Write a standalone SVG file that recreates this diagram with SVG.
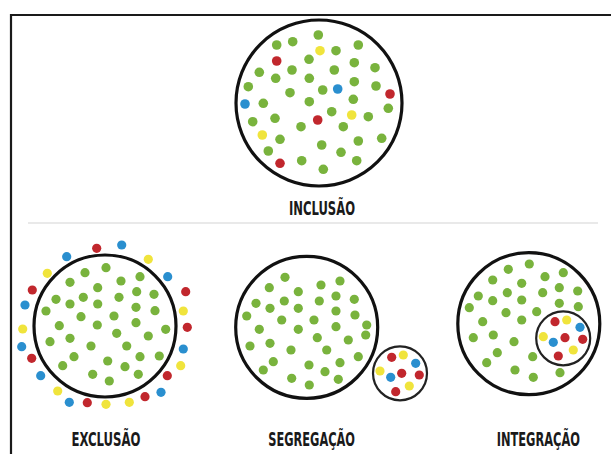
<svg xmlns="http://www.w3.org/2000/svg" width="611" height="454" viewBox="0 0 611 454">
<style>
.ring{fill:none;stroke:#111;stroke-width:3.2}
.ring2{fill:none;stroke:#222;stroke-width:2.2}
.g{fill:#79b33d}
.r{fill:#c1272d}
.b{fill:#2a8fcf}
.y{fill:#f0e43c}
.lbl{font-family:"Liberation Sans Narrow","DejaVu Sans Condensed","Liberation Sans",sans-serif;font-stretch:condensed;font-weight:bold;font-size:20px;fill:#1a1a1a}
</style>
<rect width="611" height="454" fill="#fff"/>
<path d="M11 454 V15 H611" fill="none" stroke="#1a1a1a" stroke-width="2.2"/>
<line x1="28" y1="223" x2="598" y2="223" stroke="#e9e9e9" stroke-width="2"/>

<g id="inclusao">
<circle class="ring" cx="319" cy="103" r="83"/>
<g>
<circle class="g" cx="318.3" cy="35" r="4.8"/><circle class="g" cx="276.7" cy="45" r="4.8"/><circle class="g" cx="292.7" cy="41.7" r="4.8"/><circle class="y" cx="320" cy="50.7" r="4.8"/><circle class="g" cx="336" cy="50.7" r="4.8"/><circle class="g" cx="358.3" cy="45" r="4.8"/><circle class="r" cx="276.7" cy="61" r="4.8"/><circle class="g" cx="309" cy="59.3" r="4.8"/><circle class="g" cx="354.3" cy="62.7" r="4.8"/><circle class="g" cx="259.3" cy="72.3" r="4.8"/><circle class="g" cx="292" cy="70" r="4.8"/><circle class="g" cx="334.3" cy="70" r="4.8"/><circle class="g" cx="375" cy="67.7" r="4.8"/><circle class="g" cx="275.7" cy="78.3" r="4.8"/><circle class="g" cx="309.3" cy="78.3" r="4.8"/><circle class="g" cx="354.3" cy="81.7" r="4.8"/><circle class="g" cx="248.3" cy="86.7" r="4.8"/><circle class="b" cx="337.7" cy="89" r="4.8"/><circle class="g" cx="322.7" cy="90" r="4.8"/><circle class="g" cx="290" cy="92.7" r="4.8"/><circle class="g" cx="376" cy="86" r="4.8"/><circle class="r" cx="390" cy="94" r="4.8"/><circle class="b" cx="245" cy="104" r="4.8"/><circle class="g" cx="263.3" cy="103.3" r="4.8"/><circle class="g" cx="309.3" cy="101.7" r="4.8"/><circle class="g" cx="353.3" cy="99.3" r="4.8"/><circle class="g" cx="388.3" cy="108.3" r="4.8"/><circle class="g" cx="331.7" cy="111.7" r="4.8"/><circle class="y" cx="351.7" cy="115" r="4.8"/><circle class="g" cx="368.3" cy="116.7" r="4.8"/><circle class="g" cx="252.7" cy="121.7" r="4.8"/><circle class="g" cx="275" cy="118.3" r="4.8"/><circle class="r" cx="317.7" cy="120" r="4.8"/><circle class="g" cx="301" cy="126.7" r="4.8"/><circle class="g" cx="343.3" cy="126.7" r="4.8"/><circle class="y" cx="262.3" cy="135" r="4.8"/><circle class="g" cx="280" cy="139.3" r="4.8"/><circle class="g" cx="381.7" cy="138.3" r="4.8"/><circle class="g" cx="268.3" cy="151" r="4.8"/><circle class="g" cx="321.7" cy="145" r="4.8"/><circle class="g" cx="358.3" cy="141" r="4.8"/><circle class="g" cx="341" cy="152.3" r="4.8"/><circle class="r" cx="280" cy="163.3" r="4.8"/><circle class="g" cx="301.7" cy="160.7" r="4.8"/><circle class="g" cx="356.7" cy="160.7" r="4.8"/><circle class="g" cx="323.3" cy="169.3" r="4.8"/>
</g>
<text class="lbl" x="289" y="214.5" textLength="66" lengthAdjust="spacingAndGlyphs">INCLUSÃO</text>
</g>

<g id="exclusao">
<circle class="ring" cx="105" cy="326" r="71"/>
<g>
<circle class="g" cx="106" cy="267.7" r="4.6"/><circle class="g" cx="85" cy="272.7" r="4.6"/><circle class="g" cx="140" cy="276.7" r="4.6"/><circle class="g" cx="70" cy="282.3" r="4.6"/><circle class="g" cx="121" cy="281" r="4.6"/><circle class="g" cx="97.7" cy="287.7" r="4.6"/><circle class="g" cx="136.7" cy="291.7" r="4.6"/><circle class="g" cx="154" cy="294.3" r="4.6"/><circle class="g" cx="56" cy="299.3" r="4.6"/><circle class="g" cx="70" cy="304" r="4.6"/><circle class="g" cx="83.3" cy="297.3" r="4.6"/><circle class="g" cx="97.7" cy="304" r="4.6"/><circle class="g" cx="119" cy="297.3" r="4.6"/><circle class="g" cx="136" cy="307.3" r="4.6"/><circle class="g" cx="155" cy="310.7" r="4.6"/><circle class="g" cx="46" cy="311" r="4.6"/><circle class="g" cx="81" cy="316.7" r="4.6"/><circle class="g" cx="114" cy="316" r="4.6"/><circle class="g" cx="136" cy="322.7" r="4.6"/><circle class="g" cx="59.3" cy="325.7" r="4.6"/><circle class="g" cx="97.3" cy="325" r="4.6"/><circle class="g" cx="165.7" cy="329.3" r="4.6"/><circle class="g" cx="116.7" cy="333.3" r="4.6"/><circle class="g" cx="148.3" cy="336" r="4.6"/><circle class="g" cx="70" cy="338.3" r="4.6"/><circle class="g" cx="50" cy="341.7" r="4.6"/><circle class="g" cx="91" cy="346" r="4.6"/><circle class="g" cx="126.7" cy="346" r="4.6"/><circle class="g" cx="159.3" cy="356" r="4.6"/><circle class="g" cx="74" cy="356.7" r="4.6"/><circle class="g" cx="140" cy="356.7" r="4.6"/><circle class="g" cx="107.7" cy="361" r="4.6"/><circle class="g" cx="62.7" cy="365.7" r="4.6"/><circle class="g" cx="125" cy="366.7" r="4.6"/><circle class="g" cx="92.7" cy="374.3" r="4.6"/><circle class="g" cx="138.3" cy="374.3" r="4.6"/><circle class="g" cx="109.3" cy="381" r="4.6"/>
</g>
<g>
<circle class="r" cx="96.7" cy="248.3" r="4.6"/><circle class="b" cx="121.7" cy="245" r="4.6"/><circle class="b" cx="66.7" cy="256.7" r="4.6"/><circle class="y" cx="148.3" cy="259.3" r="4.6"/><circle class="y" cx="47.3" cy="273.3" r="4.6"/><circle class="b" cx="167.7" cy="276.7" r="4.6"/><circle class="r" cx="32.3" cy="290" r="4.6"/><circle class="r" cx="185.7" cy="291.7" r="4.6"/><circle class="b" cx="25" cy="305" r="4.6"/><circle class="y" cx="183.3" cy="311" r="4.6"/><circle class="y" cx="22.7" cy="329" r="4.6"/><circle class="r" cx="187.3" cy="327.3" r="4.6"/><circle class="b" cx="21.7" cy="346.7" r="4.6"/><circle class="b" cx="183.3" cy="349" r="4.6"/><circle class="r" cx="31.7" cy="358.3" r="4.6"/><circle class="y" cx="180.7" cy="365.7" r="4.6"/><circle class="b" cx="40.7" cy="375.7" r="4.6"/><circle class="r" cx="167.3" cy="375.7" r="4.6"/><circle class="y" cx="57.7" cy="391" r="4.6"/><circle class="b" cx="161" cy="392.3" r="4.6"/><circle class="r" cx="145" cy="396.7" r="4.6"/><circle class="b" cx="69.3" cy="402.3" r="4.6"/><circle class="r" cx="87.3" cy="402.7" r="4.6"/><circle class="y" cx="106" cy="404.3" r="4.6"/><circle class="y" cx="129.3" cy="402.3" r="4.6"/>
</g>
<text class="lbl" x="71.5" y="446" textLength="69" lengthAdjust="spacingAndGlyphs">EXCLUSÃO</text>
</g>

<g id="segregacao">
<circle class="ring" cx="306.7" cy="327.3" r="71"/>
<g>
<circle class="g" cx="285" cy="277.3" r="4.6"/><circle class="g" cx="269.3" cy="287.7" r="4.6"/><circle class="g" cx="321" cy="285" r="4.6"/><circle class="g" cx="340" cy="281" r="4.6"/><circle class="g" cx="298.3" cy="291.7" r="4.6"/><circle class="g" cx="256" cy="303.3" r="4.6"/><circle class="g" cx="284.3" cy="301" r="4.6"/><circle class="g" cx="319.3" cy="301" r="4.6"/><circle class="g" cx="336" cy="296" r="4.6"/><circle class="g" cx="354.3" cy="299.3" r="4.6"/><circle class="g" cx="270" cy="308.3" r="4.6"/><circle class="g" cx="298.3" cy="308.3" r="4.6"/><circle class="g" cx="336" cy="311" r="4.6"/><circle class="g" cx="246.7" cy="316" r="4.6"/><circle class="g" cx="355" cy="315" r="4.6"/><circle class="g" cx="281.7" cy="320" r="4.6"/><circle class="g" cx="314" cy="320" r="4.6"/><circle class="g" cx="366.7" cy="325" r="4.6"/><circle class="g" cx="259.3" cy="329.3" r="4.6"/><circle class="g" cx="298.3" cy="329.3" r="4.6"/><circle class="g" cx="336" cy="326.7" r="4.6"/><circle class="g" cx="365.7" cy="335" r="4.6"/><circle class="g" cx="317.3" cy="337.7" r="4.6"/><circle class="g" cx="348.3" cy="340" r="4.6"/><circle class="g" cx="270" cy="343.3" r="4.6"/><circle class="g" cx="250" cy="346" r="4.6"/><circle class="g" cx="291" cy="350" r="4.6"/><circle class="g" cx="326.7" cy="350" r="4.6"/><circle class="g" cx="358.3" cy="356.7" r="4.6"/><circle class="g" cx="273.3" cy="361.7" r="4.6"/><circle class="g" cx="340" cy="362.7" r="4.6"/><circle class="g" cx="263.3" cy="370" r="4.6"/><circle class="g" cx="309" cy="365" r="4.6"/><circle class="g" cx="325" cy="371.7" r="4.6"/><circle class="g" cx="291.7" cy="378.3" r="4.6"/><circle class="g" cx="338.3" cy="379.3" r="4.6"/><circle class="g" cx="309.3" cy="385" r="4.6"/>
</g>
<circle class="ring2" cx="400" cy="373.3" r="27"/>
<g>
<circle class="r" cx="391.7" cy="357.3" r="4.6"/><circle class="y" cx="403.3" cy="355" r="4.6"/><circle class="y" cx="380" cy="371" r="4.6"/><circle class="b" cx="415.7" cy="363.3" r="4.6"/><circle class="r" cx="401.7" cy="373.3" r="4.6"/><circle class="b" cx="390.7" cy="377.3" r="4.6"/><circle class="r" cx="419.3" cy="375" r="4.6"/><circle class="y" cx="409.3" cy="386" r="4.6"/><circle class="r" cx="395.7" cy="391.7" r="4.6"/>
</g>
<text class="lbl" x="268.3" y="446" textLength="86.7" lengthAdjust="spacingAndGlyphs">SEGREGAÇÃO</text>
</g>

<g id="integracao">
<circle class="ring" cx="528.8" cy="323.7" r="71"/>
<g>
<circle class="g" cx="529.3" cy="264" r="4.6"/><circle class="g" cx="508.3" cy="269.3" r="4.6"/><circle class="g" cx="563.3" cy="272.7" r="4.6"/><circle class="g" cx="492.7" cy="280" r="4.6"/><circle class="g" cx="545" cy="276.7" r="4.6"/><circle class="g" cx="521.7" cy="283.3" r="4.6"/><circle class="g" cx="478.3" cy="296" r="4.6"/><circle class="g" cx="507.3" cy="292.7" r="4.6"/><circle class="g" cx="542.7" cy="292.7" r="4.6"/><circle class="g" cx="559.3" cy="287.7" r="4.6"/><circle class="g" cx="577.7" cy="291" r="4.6"/><circle class="g" cx="492.7" cy="300.7" r="4.6"/><circle class="g" cx="521.7" cy="300" r="4.6"/><circle class="g" cx="469.3" cy="307.7" r="4.6"/><circle class="g" cx="559.3" cy="303.3" r="4.6"/><circle class="g" cx="578.3" cy="306.7" r="4.6"/><circle class="g" cx="506" cy="312.7" r="4.6"/><circle class="g" cx="536.7" cy="311.7" r="4.6"/><circle class="g" cx="482.7" cy="321.7" r="4.6"/><circle class="g" cx="521.7" cy="320" r="4.6"/><circle class="g" cx="493.3" cy="335" r="4.6"/><circle class="g" cx="473.3" cy="337.7" r="4.6"/><circle class="g" cx="514" cy="341.7" r="4.6"/><circle class="g" cx="497.3" cy="352.7" r="4.6"/><circle class="g" cx="532.7" cy="356.7" r="4.6"/><circle class="g" cx="486.7" cy="362.7" r="4.6"/><circle class="g" cx="515" cy="370" r="4.6"/><circle class="g" cx="560" cy="372.7" r="4.6"/><circle class="g" cx="533.3" cy="377.3" r="4.6"/>
</g>
<circle class="ring2" cx="563.2" cy="338.3" r="27"/>
<g>
<circle class="r" cx="555" cy="321.7" r="4.6"/><circle class="y" cx="566.7" cy="320" r="4.6"/><circle class="b" cx="580" cy="327.3" r="4.6"/><circle class="y" cx="543.3" cy="336.7" r="4.6"/><circle class="r" cx="565" cy="337.7" r="4.6"/><circle class="r" cx="582.7" cy="339.3" r="4.6"/><circle class="b" cx="553.3" cy="342.3" r="4.6"/><circle class="y" cx="573.3" cy="350" r="4.6"/><circle class="r" cx="558.3" cy="356" r="4.6"/>
</g>
<text class="lbl" x="496.7" y="446" textLength="83.3" lengthAdjust="spacingAndGlyphs">INTEGRAÇÃO</text>
</g>
</svg>
